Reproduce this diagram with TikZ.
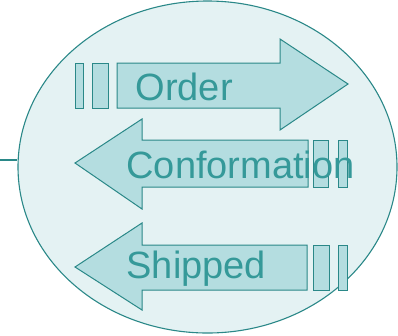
\documentclass[tikz,border=0pt]{standalone}
\usepackage{fontspec}
\setmainfont{Liberation Sans}
\usetikzlibrary{shapes.geometric}
\definecolor{cteal}{HTML}{2A8888}
\definecolor{cword}{HTML}{359999}
\definecolor{cshaft}{HTML}{B4DDE0}
\definecolor{cpale}{HTML}{E4F2F3}
\tikzset{
  every picture/.style={line width=1.1pt, x=1pt, y=-1pt},
  oval/.style={ellipse, draw=cteal, fill=cpale, minimum width=379pt, minimum height=332pt, inner sep=0pt},
  shaft/.style={draw=cteal, fill=cshaft, line width=1pt},
  word/.style={anchor=base west, inner sep=0pt, text=cword, font=\fontsize{38}{40}\selectfont},
}
\begin{document}
\begin{tikzpicture}
  \useasboundingbox (0,0) rectangle (398,335);
  \node[oval] (ell) at (207.5,167) {};
  \coordinate (lft) at (0,160);
  \draw[cteal] (lft) -- (lft -| ell.west);
  % order goes right
  \draw[shaft] (75,63) rectangle (83,108);
  \draw[shaft] (92,63) rectangle (108,108);
  \draw[shaft] (117,63) -- (280,63) -- (280,39) -- (348,84) -- (280,130) -- (280,108) -- (117,108) -- cycle;
  \node[word] (order) at (135,100) {Order};
  % the two replies go left
  \draw[shaft] (75,163) -- (142,119) -- (142,140) -- (308,140) -- (308,187) -- (142,187) -- (142,209) -- cycle;
  \draw[shaft] (313,140) rectangle (328,187);
  \draw[shaft] (338,140) rectangle (347,187);
  \node[word] (conf) at (126,178) {Conformation};
  \draw[shaft] (75,267) -- (142,223) -- (142,245) -- (307,245) -- (307,290) -- (142,290) -- (142,310) -- cycle;
  \draw[shaft] (313,245) rectangle (329,290);
  \draw[shaft] (338,245) rectangle (347,290);
  \node[word] (ship) at (126,278) {Shipped};
\end{tikzpicture}
\end{document}
